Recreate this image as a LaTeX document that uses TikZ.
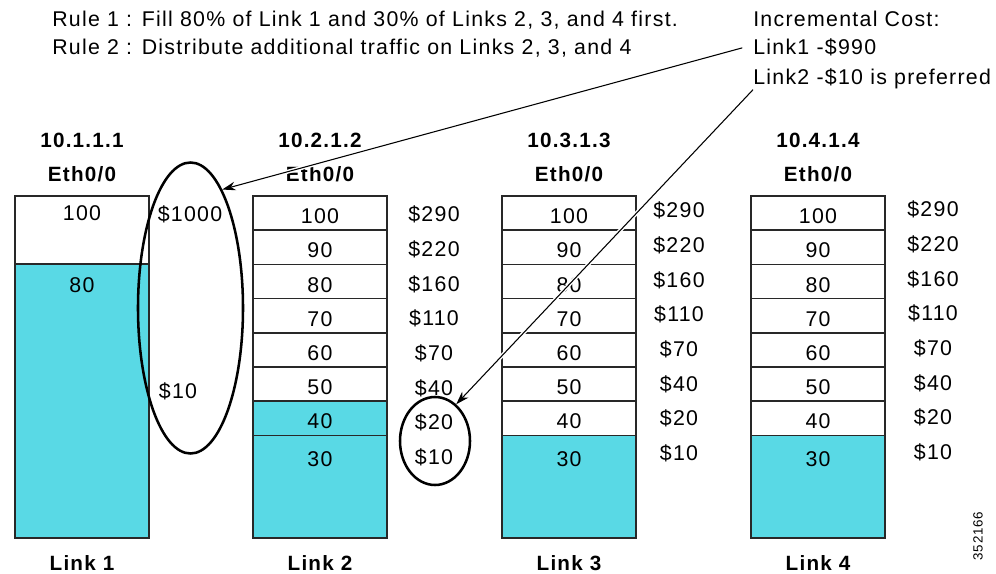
\documentclass[tikz,border=0pt]{standalone}
\usepackage{fontspec}
\setmainfont{Liberation Sans}[LetterSpace=6]
\usetikzlibrary{shapes.geometric,arrows.meta}
\definecolor{linkfill}{RGB}{89,217,229}
\definecolor{edge}{RGB}{40,40,40}

\begin{document}
\begin{tikzpicture}[x=0.75pt, y=-0.75pt, font=\fontsize{16}{19}\selectfont,
    cellbox/.style={draw=edge, line width=1.1pt},
    note/.style={anchor=base west, inner sep=0pt},
    val/.style={anchor=base, inner sep=0pt},
    hdr/.style={anchor=base, inner sep=0pt, font=\fontsize{15.5}{18}\selectfont\bfseries},
    ring/.style={draw, ellipse, line width=1.9pt, inner sep=0pt},
    pointer/.style={-{Stealth[length=10pt,width=6.5pt]}, line width=0.8pt,
        preaction={draw, white, line width=3pt, -, shorten >=12pt}}]
        \useasboundingbox (0,0) rectangle (996,574);
        \node[note] (rule1) at (52,27) {Rule 1 : Fill 80\% of Link 1 and 30\% of Links 2, 3, and 4 first.};
        \node[note] (rule2) at (52,55) {Rule 2 : Distribute additional traffic on Links 2, 3, and 4};
        \node[note] (inc) at (753,27) {Incremental Cost:};
        \node[note] (cost1) at (753,55) {Link1 -\$990};
        \node[note] (cost2) at (753,85) {Link2 -\$10 is preferred};
        \draw[cellbox] (15,196) rectangle (149,264) node[midway] (c1-100) {};
        \draw[cellbox, fill=linkfill] (15,264) rectangle (149,538);
        \node[val] (v1-100) at (82,220) {100};
        \node[val] (v1-80) at (82,292) {80};
        \node[val] (d1-1000) at (190,222) {\$1000};
        \node[val] (d1-10) at (178,398) {\$10};
        \foreach \n/\x in {1/15,2/253,3/502,4/751} {
            \node[hdr] (ip\n) at (\x+67,148) {10.\n.1.\n};
            \node[hdr] (eth\n) at (\x+67,182) {Eth0/0};
            \node[hdr] (lnk\n) at (\x+67,570) {Link \n};
        }
        \foreach \n/\x/\cx/\b/\f in {2/253/434/222/6, 3/502/679/218/7, 4/751/933/217/7} {
            \foreach \v [count=\k from 0] in {100,90,80,70,60,50,40} {
                \ifnum\k<\f \def\cfill{white}\else\def\cfill{linkfill}\fi
                \draw[cellbox, fill=\cfill] (\x,196+34.2*\k) rectangle ++(134,34.2)
                    node[midway, yshift=-2.5pt] (c\n-\v) {\v};
            }
            \draw[cellbox, fill=linkfill] (\x,435.4) rectangle (\x+134,538);
            \node[val] (c\n-30) at (\x+67,466) {30};
            \foreach \c [count=\k from 0] in {290,220,160,110,70,40,20,10}
                \node[val] (d\n-\c) at (\cx,\b+34.6*\k) {\$\c};
        }
        \node[ring, minimum width=78.75pt, minimum height=218.25pt] (ell1) at (190.5,308) {};
        \node[ring, minimum width=52.5pt, minimum height=66pt] (ell2) at (435,441) {};
        \draw[pointer] ([xshift=-8pt]cost1.west) -- (ell1.75);
        \draw[pointer] (cost2.south west) -- (ell2.60);
        \node[rotate=90, inner sep=0pt, font=\fontsize{10}{12}\selectfont] (fig) at (978,536) {352166};
    \end{tikzpicture}
\end{document}
